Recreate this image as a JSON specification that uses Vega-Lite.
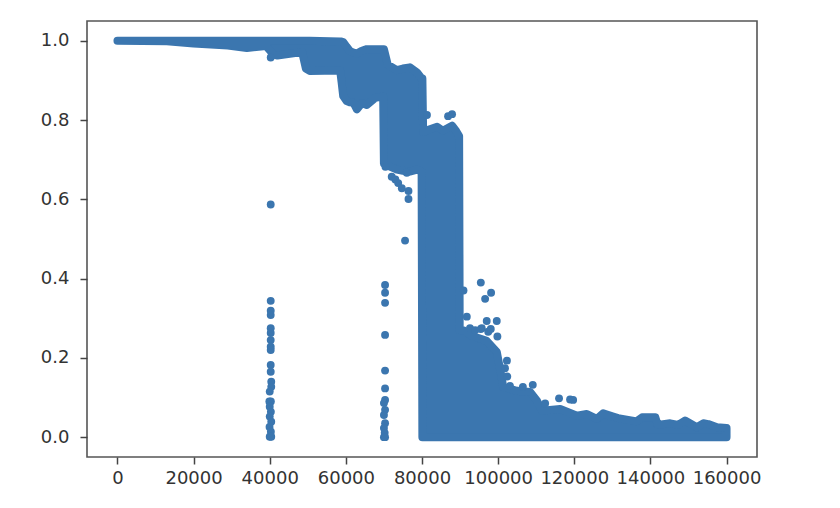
{"$schema":"https://vega.github.io/schema/vega-lite/v6.json","width":670,"height":436,"autosize":"none","padding":{"left":87,"top":21,"right":83,"bottom":51},"background":"white","view":{"stroke":"#555555","strokeWidth":1.6,"fill":"white"},"config":{"axis":{"grid":false,"domain":false,"title":null,"labelFont":"DejaVu Sans","labelFontSize":18,"labelColor":"#333333","tickColor":"#444444","tickSize":7,"tickWidth":1.5,"labelFlush":false,"labelOverlap":false}},"datasets":{"band":[{"x":0,"lo":1,"hi":1},{"x":13000,"lo":0.999,"hi":1},{"x":20000,"lo":0.993,"hi":1},{"x":29000,"lo":0.988,"hi":1},{"x":34000,"lo":0.982,"hi":1},{"x":39000,"lo":0.987,"hi":1},{"x":41000,"lo":0.965,"hi":1},{"x":42000,"lo":0.963,"hi":1},{"x":48500,"lo":0.972,"hi":1},{"x":49500,"lo":0.93,"hi":1},{"x":50500,"lo":0.924,"hi":1},{"x":58500,"lo":0.925,"hi":0.998},{"x":58900,"lo":0.894,"hi":0.998},{"x":59300,"lo":0.861,"hi":0.997},{"x":60200,"lo":0.848,"hi":0.985},{"x":61000,"lo":0.845,"hi":0.975},{"x":62000,"lo":0.844,"hi":0.97},{"x":62900,"lo":0.827,"hi":0.968},{"x":64200,"lo":0.843,"hi":0.975},{"x":65500,"lo":0.838,"hi":0.979},{"x":67700,"lo":0.856,"hi":0.979},{"x":69800,"lo":0.86,"hi":0.979},{"x":70000,"lo":0.69,"hi":0.979},{"x":71000,"lo":0.685,"hi":0.94},{"x":73400,"lo":0.675,"hi":0.926},{"x":75000,"lo":0.672,"hi":0.93},{"x":76800,"lo":0.67,"hi":0.933},{"x":78700,"lo":0.675,"hi":0.92},{"x":79900,"lo":0.67,"hi":0.905},{"x":80100,"lo":0,"hi":0.905},{"x":80300,"lo":0,"hi":0.77},{"x":81500,"lo":0,"hi":0.775},{"x":83960,"lo":0,"hi":0.783},{"x":85500,"lo":0,"hi":0.773},{"x":87900,"lo":0,"hi":0.786},{"x":89000,"lo":0,"hi":0.772},{"x":89750,"lo":0,"hi":0.76},{"x":89900,"lo":0,"hi":0.27},{"x":91000,"lo":0,"hi":0.269},{"x":93000,"lo":0,"hi":0.256},{"x":97000,"lo":0,"hi":0.243},{"x":99650,"lo":0,"hi":0.215},{"x":101000,"lo":0,"hi":0.147},{"x":101300,"lo":0,"hi":0.127},{"x":104900,"lo":0,"hi":0.117},{"x":108400,"lo":0,"hi":0.114},{"x":110200,"lo":0,"hi":0.092},{"x":111500,"lo":0,"hi":0.067},{"x":116300,"lo":0,"hi":0.071},{"x":120700,"lo":0,"hi":0.054},{"x":123300,"lo":0,"hi":0.0585},{"x":125900,"lo":0,"hi":0.046},{"x":127600,"lo":0,"hi":0.06},{"x":130200,"lo":0,"hi":0.052},{"x":131500,"lo":0,"hi":0.048},{"x":136400,"lo":0,"hi":0.04},{"x":137800,"lo":0,"hi":0.05},{"x":141300,"lo":0,"hi":0.05},{"x":141900,"lo":0,"hi":0.031},{"x":145200,"lo":0,"hi":0.035},{"x":147300,"lo":0,"hi":0.031},{"x":149100,"lo":0,"hi":0.042},{"x":152200,"lo":0,"hi":0.025},{"x":153900,"lo":0,"hi":0.035},{"x":155200,"lo":0,"hi":0.033},{"x":157500,"lo":0,"hi":0.025},{"x":160000,"lo":0,"hi":0.023}],"points":[{"x":40260,"y":0.958},{"x":40260,"y":0.587},{"x":40260,"y":0.344},{"x":40260,"y":0.319},{"x":40260,"y":0.308},{"x":40260,"y":0.275},{"x":40260,"y":0.263},{"x":40260,"y":0.245},{"x":40260,"y":0.228},{"x":40260,"y":0.22},{"x":40260,"y":0.182},{"x":40260,"y":0.165},{"x":40400,"y":0.14},{"x":40400,"y":0.127},{"x":40000,"y":0.115},{"x":39900,"y":0.09},{"x":40300,"y":0.09},{"x":40000,"y":0.077},{"x":40300,"y":0.064},{"x":40000,"y":0.052},{"x":40400,"y":0.039},{"x":39950,"y":0.026},{"x":40300,"y":0.014},{"x":40000,"y":0.001},{"x":40400,"y":0.001},{"x":70300,"y":0.384},{"x":70300,"y":0.3645},{"x":70300,"y":0.339},{"x":70300,"y":0.258},{"x":70300,"y":0.168},{"x":70300,"y":0.123},{"x":70300,"y":0.094},{"x":70000,"y":0.086},{"x":70300,"y":0.069},{"x":70000,"y":0.056},{"x":70300,"y":0.035},{"x":70000,"y":0.023},{"x":70200,"y":0.011},{"x":70000,"y":0},{"x":70300,"y":0},{"x":70400,"y":0.682},{"x":72050,"y":0.657},{"x":73000,"y":0.65},{"x":73750,"y":0.641},{"x":74700,"y":0.628},{"x":76000,"y":0.667},{"x":76450,"y":0.621},{"x":76450,"y":0.601},{"x":75550,"y":0.496},{"x":81300,"y":0.813},{"x":86850,"y":0.81},{"x":87900,"y":0.815},{"x":90900,"y":0.37},{"x":95450,"y":0.39},{"x":98150,"y":0.3645},{"x":96580,"y":0.349},{"x":91770,"y":0.304},{"x":92600,"y":0.275},{"x":93950,"y":0.27},{"x":95700,"y":0.275},{"x":97400,"y":0.266},{"x":97000,"y":0.293},{"x":99640,"y":0.293},{"x":98070,"y":0.273},{"x":99800,"y":0.254},{"x":95450,"y":0.273},{"x":102300,"y":0.193},{"x":101800,"y":0.174},{"x":102400,"y":0.153},{"x":103100,"y":0.129},{"x":106500,"y":0.127},{"x":109100,"y":0.132},{"x":116000,"y":0.098},{"x":112350,"y":0.085},{"x":118900,"y":0.095},{"x":119700,"y":0.094}]},"layer":[{"data":{"name":"band"},"mark":{"type":"area","color":"#3b76af","stroke":"#3b76af","strokeWidth":8,"strokeJoin":"round","strokeCap":"round","clip":false},"encoding":{"x":{"field":"x","type":"quantitative","scale":{"domain":[-8000,168000],"nice":false,"zero":false},"axis":{"values":[0,20000,40000,60000,80000,100000,120000,140000,160000],"format":"d","labelPadding":5}},"y":{"field":"hi","type":"quantitative","scale":{"domain":[-0.05,1.05],"nice":false,"zero":false},"axis":{"values":[0,0.2,0.4,0.6,0.8,1],"format":".1f","labelPadding":11}},"y2":{"field":"lo"}}},{"data":{"name":"points"},"mark":{"type":"point","filled":true,"size":62,"opacity":1,"color":"#3b76af"},"encoding":{"x":{"field":"x","type":"quantitative"},"y":{"field":"y","type":"quantitative"}}}]}
